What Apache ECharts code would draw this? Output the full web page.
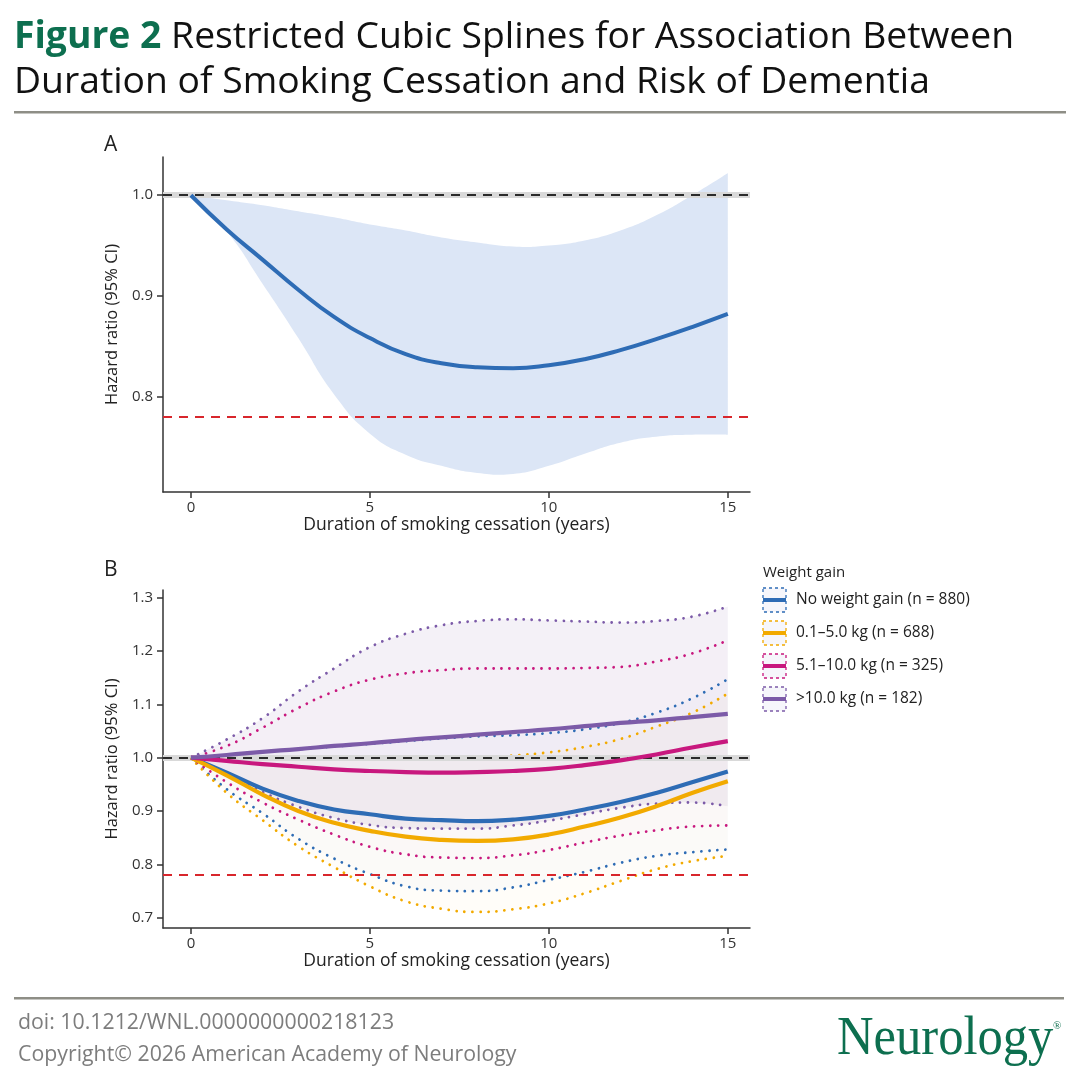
<!DOCTYPE html>
<html>
<head>
<meta charset="utf-8">
<script src="https://cdn.jsdelivr.net/npm/echarts@6/dist/echarts.min.js"></script>
<style>
html,body{margin:0;padding:0;background:#fff;}
#chart{width:1080px;height:1080px;}
</style>
</head>
<body>
<div id="chart"></div>
<script>
// ---------- data ----------
const years = [0,1,2,3,4,5,6,7,8,9,10,11,12,13,14,15];
const xTicks = [0,5,10,15];
const yTicksA = [0.8,0.9,1.0];
const yTicksB = [0.7,0.8,0.9,1.0,1.1,1.2,1.3];
const refHR = 1.0;
const redRef = 0.783;

// Panel A: overall
const hrA = [1.000,0.966,0.936,0.906,0.879,0.858,0.842,0.833,0.829,0.828,0.831,0.837,0.846,0.857,0.869,0.882];
const upA = [1.000,0.995,0.990,0.984,0.978,0.971,0.965,0.958,0.953,0.949,0.950,0.955,0.965,0.980,1.000,1.022];
const loA = [1.000,0.964,0.912,0.858,0.802,0.763,0.742,0.731,0.724,0.723,0.731,0.743,0.754,0.760,0.762,0.762];

// Panel B: by weight gain
const groupNames = ['No weight gain (n = 880)','0.1\u20135.0 kg (n = 688)','5.1\u201310.0 kg (n = 325)','>10.0 kg (n = 182)'];
const hrNone = [1.000,0.972,0.942,0.919,0.903,0.894,0.886,0.883,0.881,0.884,0.891,0.903,0.917,0.934,0.954,0.974];
const upNone = [1.000,1.005,1.011,1.016,1.021,1.026,1.031,1.036,1.040,1.042,1.046,1.053,1.065,1.084,1.111,1.147];
const loNone = [1.000,0.941,0.896,0.848,0.811,0.782,0.759,0.751,0.750,0.757,0.771,0.786,0.803,0.816,0.823,0.828];
const hrLow  = [1.000,0.967,0.931,0.900,0.878,0.863,0.852,0.846,0.844,0.847,0.856,0.871,0.888,0.909,0.934,0.956];
const upLow  = [1.000,0.998,0.997,0.997,0.997,0.998,0.998,0.999,1.000,1.004,1.010,1.020,1.035,1.058,1.084,1.120];
const loLow  = [1.000,0.934,0.883,0.834,0.795,0.759,0.731,0.717,0.711,0.716,0.727,0.746,0.769,0.791,0.806,0.816];
const hrMid  = [1.000,0.994,0.988,0.983,0.978,0.975,0.973,0.972,0.973,0.975,0.979,0.986,0.995,1.006,1.019,1.031];
const upMid  = [1.000,1.022,1.056,1.093,1.124,1.146,1.158,1.164,1.167,1.167,1.167,1.168,1.170,1.180,1.195,1.220];
const loMid  = [1.000,0.954,0.916,0.884,0.856,0.833,0.819,0.813,0.812,0.817,0.827,0.841,0.854,0.864,0.871,0.873];
const hrHigh = [1.000,1.005,1.011,1.016,1.022,1.027,1.033,1.038,1.043,1.048,1.053,1.059,1.065,1.070,1.076,1.082];
const upHigh = [1.000,1.034,1.074,1.124,1.167,1.207,1.232,1.248,1.256,1.259,1.257,1.255,1.253,1.256,1.264,1.283];
const loHigh = [1.000,0.972,0.936,0.908,0.887,0.874,0.868,0.867,0.867,0.873,0.882,0.894,0.906,0.914,0.916,0.909];

// ---------- styles ----------
const FONT = 'Open Sans';
const SMOOTH = 0.5;
const groupColors = ['#2e6cb5','#f2aa00','#c8187e','#7c5ba8'];
const bandFills = ['rgba(46,108,181,0.02)','rgba(242,170,0,0.025)','rgba(200,24,126,0.008)','rgba(124,91,168,0.085)'];
const groups = [
  {hr:hrNone, up:upNone, lo:loNone},
  {hr:hrLow,  up:upLow,  lo:loLow},
  {hr:hrMid,  up:upMid,  lo:loMid},
  {hr:hrHigh, up:upHigh, lo:loHigh}
];

const pairs = ys => years.map((x,i)=>[x, ys[i]]);

// smooth a pixel polyline the same way an ECharts smoothed line does, then sample it
function smoothSample(pts, smooth){
  const n = pts.length, out = [pts[0]];
  const cps = pts.map((p,i)=>{
    if (i===0 || i===n-1) return {c0:p, c1:p};
    const prev = pts[i-1], next = pts[i+1];
    const vx = next[0]-prev[0], vy = next[1]-prev[1];
    const lp = Math.hypot(p[0]-prev[0], p[1]-prev[1]);
    const ln = Math.hypot(p[0]-next[0], p[1]-next[1]);
    const r = ln/(ln+lp || 1);
    return {c0:[p[0]-vx*smooth*(1-r), p[1]-vy*smooth*(1-r)], c1:[p[0]+vx*smooth*r, p[1]+vy*smooth*r]};
  });
  for (let i=0;i<n-1;i++){
    const p0 = pts[i], p3 = pts[i+1], p1 = cps[i].c1, p2 = cps[i+1].c0;
    for (let k=1;k<=14;k++){
      const t = k/14, u = 1-t;
      out.push([
        u*u*u*p0[0]+3*u*u*t*p1[0]+3*u*t*t*p2[0]+t*t*t*p3[0],
        u*u*u*p0[1]+3*u*u*t*p1[1]+3*u*t*t*p2[1]+t*t*t*p3[1]
      ]);
    }
  }
  return out;
}

function bandSeries(axisIdx, up, lo, fill){
  return {
    type:'custom', xAxisIndex:axisIdx, yAxisIndex:axisIdx, silent:true, z:0,
    data: years.map((x,i)=>[x, lo[i], up[i]]),
    renderItem(params, api){
      if (params.dataIndex !== 0) return null;
      const upPts = years.map((x,i)=>api.coord([x, up[i]]));
      const loPts = years.map((x,i)=>api.coord([x, lo[i]]));
      const top = smoothSample(upPts, SMOOTH);
      const bot = smoothSample(loPts, SMOOTH).reverse();
      return {type:'polygon', shape:{points: top.concat(bot)}, style:{fill, stroke:null}};
    }
  };
}

const axisColor = '#333';
function xAxisDef(gridIndex){
  return {
    type:'value', gridIndex, min:-0.78, max:15.62,
    name:'Duration of smoking cessation (years)', nameLocation:'middle', nameGap:23,
    nameTextStyle:{fontFamily:FONT, fontSize:17.5, color:'#222'},
    axisLine:{show:true, onZero:false, lineStyle:{color:axisColor, width:1.5}},
    axisTick:{show:true, customValues:xTicks, length:6, lineStyle:{color:axisColor, width:1.5}},
    axisLabel:{customValues:xTicks, fontFamily:FONT, fontSize:15, color:'#333', margin:8},
    splitLine:{show:false}
  };
}
function yAxisDef(gridIndex, min, max, ticks){
  return {
    type:'value', gridIndex, min, max,
    name:'Hazard ratio (95% CI)', nameLocation:'middle', nameGap:41, nameRotate:90,
    nameTextStyle:{fontFamily:FONT, fontSize:16.5, color:'#222'},
    axisLine:{show:true, onZero:false, lineStyle:{color:axisColor, width:1.5}},
    axisTick:{show:true, customValues:ticks, length:6, lineStyle:{color:axisColor, width:1.5}},
    axisLabel:{customValues:ticks, fontFamily:FONT, fontSize:15, color:'#333', margin:10,
      formatter:v=>Number(v).toFixed(1)},
    splitLine:{show:false}
  };
}
function refLines(){
  return {
    silent:true, symbol:['none','none'], label:{show:false}, animation:false,
    data:[
      {yAxis:refHR, lineStyle:{color:'#d9d9d9', width:6, type:'solid'}},
      {yAxis:refHR, lineStyle:{color:'#2b2b2b', width:2.2, type:[9,7]}},
      {yAxis:redRef, lineStyle:{color:'#d8262c', width:2.2, type:[9,7]}}
    ]
  };
}

const series = [];
// Panel A
series.push(bandSeries(0, upA, loA, '#dce6f6'));
series.push({type:'line', xAxisIndex:0, yAxisIndex:0, data:[], symbol:'none', z:2, markLine:refLines()});
series.push({type:'line', xAxisIndex:0, yAxisIndex:0, data:pairs(hrA), smooth:SMOOTH, symbol:'none',
  lineStyle:{color:groupColors[0], width:4}, z:5});

// Panel B bands
groups.forEach((g,i)=>series.push(bandSeries(1, g.up, g.lo, bandFills[i])));
series.push({type:'line', xAxisIndex:1, yAxisIndex:1, data:[], symbol:'none', z:2, markLine:refLines()});
// dotted CI lines
groups.forEach((g,i)=>{
  [g.up, g.lo].forEach(arr=>{
    series.push({type:'line', xAxisIndex:1, yAxisIndex:1, data:pairs(arr), smooth:SMOOTH, symbol:'none',
      lineStyle:{color:groupColors[i], width:2.8, type:[0.01,8], cap:'round'}, z:3});
  });
});
// solid estimates
groups.forEach((g,i)=>{
  series.push({type:'line', xAxisIndex:1, yAxisIndex:1, data:pairs(g.hr), smooth:SMOOTH, symbol:'none',
    lineStyle:{color:groupColors[i], width:4.2}, z:5});
});

// ---------- graphics (title, panel letters, legend, footer) ----------
const graphic = [
  {type:'text', left:14, top:15, style:{
    text:'{g|Figure 2} Restricted Cubic Splines for Association Between\nDuration of Smoking Cessation and Risk of Dementia',
    fontFamily:FONT, fontSize:37.3, fill:'#111', lineHeight:45,
    rich:{g:{fontFamily:FONT, fontSize:37.3, fontWeight:'bold', fill:'#0d6f4f', lineHeight:45}}
  }},
  {type:'rect', shape:{x:14, y:111, width:1052, height:2.5}, style:{fill:'#8e8e86'}},
  {type:'text', x:104, y:145, style:{text:'A', fontFamily:FONT, fontSize:21, fill:'#222', verticalAlign:'middle'}},
  {type:'text', x:104, y:570, style:{text:'B', fontFamily:FONT, fontSize:21, fill:'#222', verticalAlign:'middle'}},
  {type:'text', x:763, y:573, style:{text:'Weight gain', fontFamily:FONT, fontSize:15, fill:'#222', verticalAlign:'middle'}},
  {type:'rect', shape:{x:14, y:997, width:1050, height:2.5}, style:{fill:'#8e8e86'}},
  {type:'text', x:18, y:1023, style:{text:'doi: 10.1212/WNL.0000000000218123', fontFamily:FONT, fontSize:21.3, fill:'#7d7d7d', verticalAlign:'middle'}},
  {type:'text', x:18, y:1055, style:{text:'Copyright\u00a9 2026 American Academy of Neurology', fontFamily:FONT, fontSize:21.3, fill:'#7d7d7d', verticalAlign:'middle'}},
  {type:'text', x:837, y:1040, scaleX:0.92, style:{text:'Neurology', fontFamily:'Liberation Serif', fontSize:55, fill:'#0d6f4f', verticalAlign:'middle'}},
  {type:'text', x:1053, y:1026, style:{text:'\u00ae', fontFamily:'Liberation Serif', fontSize:11, fill:'#0d6f4f', verticalAlign:'middle'}}
];
groupNames.forEach((name,i)=>{
  const cy = 600 + i*33;
  graphic.push({type:'rect', shape:{x:763, y:cy-12, width:23, height:24},
    style:{fill:'rgba(240,240,248,0.6)', stroke:groupColors[i], lineWidth:1.3, lineDash:[3,3]}});
  graphic.push({type:'line', shape:{x1:763, y1:cy, x2:786, y2:cy}, style:{stroke:groupColors[i], lineWidth:4}});
  graphic.push({type:'text', x:796, y:cy, style:{text:name, fontFamily:FONT, fontSize:15.5, fill:'#222', verticalAlign:'middle'}});
});

const chart = echarts.init(document.getElementById('chart'), null, {renderer:'canvas'});
chart.setOption({
  animation:false,
  backgroundColor:'#ffffff',
  grid:[
    {left:163, top:157, width:587, height:335},
    {left:163, top:590, width:587, height:338}
  ],
  xAxis:[xAxisDef(0), xAxisDef(1)],
  yAxis:[yAxisDef(0, 0.705, 1.038, yTicksA), yAxisDef(1, 0.681, 1.314, yTicksB)],
  series,
  graphic
});
</script>
</body>
</html>
